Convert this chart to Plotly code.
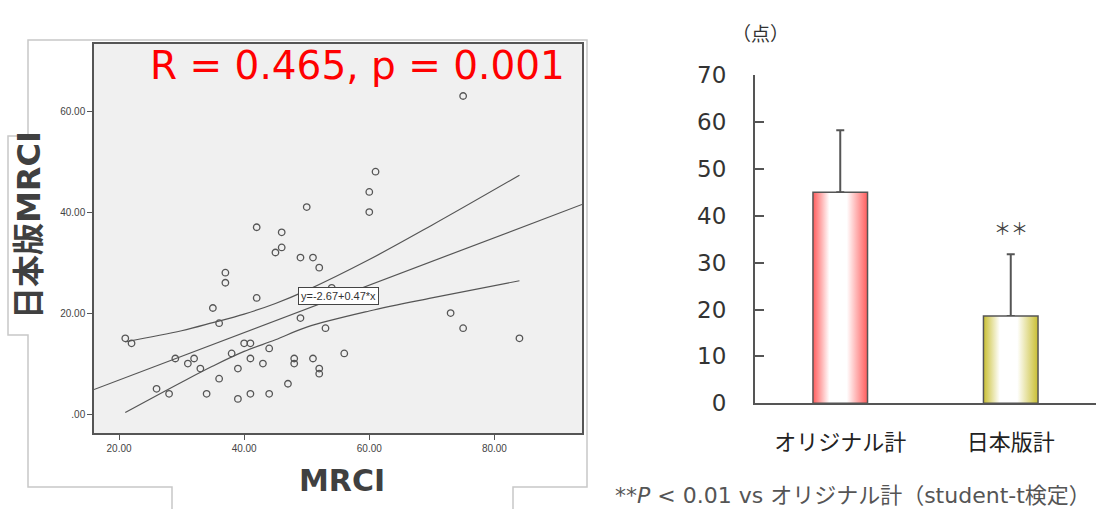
import plotly.graph_objects as go

W, H = 1105, 509

# ---------------- Scatter data (MRCI vs 日本版MRCI) ----------------
mrci = [75, 61, 60, 60, 50, 42, 46, 46, 45, 49,
        51, 52, 37, 37, 42, 35, 54, 49, 36, 53,
        21, 22, 40, 41, 44, 38, 56, 29, 32, 41,
        48, 51, 31, 43, 48, 33, 39, 52, 52, 36,
        47, 26, 28, 34, 41, 44, 39, 73, 75, 84]
jp_mrci = [63, 48, 44, 40, 41, 37, 36, 33, 32, 31,
           31, 29, 28, 26, 23, 21, 25, 19, 18, 17,
           15, 14, 14, 14, 13, 12, 12, 11, 11, 11,
           11, 11, 10, 10, 10, 9, 9, 9, 8, 7,
           6, 5, 4, 4, 4, 4, 3, 20, 17, 15]

fit_intercept = -2.67
fit_slope = 0.47
fit_x = [16, 94]

ci_x = [21, 30, 35, 40, 45, 50, 60, 70, 84]
ci_upper = [14.3, 16.5, 18.1, 19.8, 21.9, 24.5, 30.6, 37.4, 47.3]
ci_lower = [0.3, 6.3, 9.5, 12.4, 14.7, 17.2, 20.4, 23.0, 26.4]

scatter_xticks = [20, 40, 60, 80]
scatter_xticktext = ["20.00", "40.00", "60.00", "80.00"]
scatter_yticks = [0, 20, 40, 60]
scatter_yticktext = [".00", "20.00", "40.00", "60.00"]

# ---------------- Bar data ----------------
categories = ["オリジナル計", "日本版計"]
means = [45.0, 18.6]
sds = [13.2, 13.2]
bar_colors = ["#ff5c5c", "#c9bf32"]
bar_ticks = [0, 10, 20, 30, 40, 50, 60, 70]

fig = go.Figure()

# scatter points
fig.add_trace(go.Scatter(
    x=mrci, y=jp_mrci, mode="markers",
    marker=dict(symbol="circle-open", size=6.5, color="#555555", line=dict(width=1.3)),
    xaxis="x", yaxis="y", hoverinfo="x+y"))

# fit line
fig.add_trace(go.Scatter(
    x=fit_x, y=[fit_intercept + fit_slope * v for v in fit_x], mode="lines",
    line=dict(color="#555555", width=1.2), xaxis="x", yaxis="y"))

# confidence bands
for band in (ci_upper, ci_lower):
    fig.add_trace(go.Scatter(
        x=ci_x, y=band, mode="lines", line=dict(color="#555555", width=1.2, shape="spline"),
        xaxis="x", yaxis="y"))

# bars (gradient fills)
hw = 0.16
for i, (m, c) in enumerate(zip(means, bar_colors)):
    fig.add_trace(go.Scatter(
        x=[i - hw, i - hw, i + hw, i + hw, i - hw],
        y=[0, m, m, 0, 0],
        mode="lines", fill="toself",
        fillgradient=dict(type="horizontal",
                          colorscale=[[0, c], [0.3, "#ffffff"], [0.62, "#ffffff"], [1, c]]),
        line=dict(color="#555555", width=1.5),
        xaxis="x2", yaxis="y2", hoverinfo="skip"))

# bars (error bars)
fig.add_trace(go.Bar(
    x=[0, 1], y=means, width=2 * hw,
    marker=dict(color="rgba(0,0,0,0)", line=dict(width=0)),
    error_y=dict(type="data", array=sds, arrayminus=[0, 0], symmetric=False,
                 color="#555555", thickness=2, width=4),
    xaxis="x2", yaxis="y2"))

narrow = "Liberation Sans Narrow, Liberation Sans, Arial, sans-serif"
jp = "Noto Sans CJK JP, sans-serif"
dv = "DejaVu Sans, Noto Sans CJK JP, sans-serif"

fig.update_layout(
    width=W, height=H,
    margin=dict(l=0, r=0, t=0, b=0, autoexpand=False),
    paper_bgcolor="white", plot_bgcolor="white",
    showlegend=False,
    xaxis=dict(domain=[94 / W, 582 / W], range=[16, 94], anchor="y", automargin=False,
               tickvals=scatter_xticks, ticktext=scatter_xticktext,
               ticks="outside", ticklen=5, tickwidth=1, tickcolor="#555555",
               showline=True, mirror=True, linecolor="#555555", linewidth=1.5,
               showgrid=False, zeroline=False,
               tickfont=dict(family=narrow, size=10, color="#444444")),
    yaxis=dict(domain=[1 - 433 / H, 1 - 44 / H], range=[-3.76, 73.3], anchor="x", automargin=False,
               tickvals=scatter_yticks, ticktext=scatter_yticktext,
               ticks="outside", ticklen=5, tickwidth=1, tickcolor="#555555",
               showline=True, mirror=True, linecolor="#555555", linewidth=1.5,
               showgrid=False, zeroline=False,
               tickfont=dict(family=narrow, size=10, color="#444444")),
    xaxis2=dict(domain=[755 / W, 1096 / W], range=[-0.5, 1.5], anchor="y2", automargin=False,
                tickvals=[0, 1], ticktext=categories, ticks="",
                showline=True, linecolor="#555555", linewidth=2,
                showgrid=False, zeroline=False, ticklabelstandoff=18,
                tickfont=dict(family=jp, size=22, color="#222222")),
    yaxis2=dict(domain=[1 - 403.3 / H, 1 - 75 / H], range=[0, 70], anchor="x2", automargin=False,
                tickvals=bar_ticks, ticks="inside", ticklen=9, tickwidth=2,
                tickcolor="#555555", showline=True, linecolor="#555555", linewidth=2,
                showgrid=False, zeroline=False, ticklabelstandoff=22,
                tickfont=dict(family=dv, size=23, color="#333333")),
    shapes=[
        dict(type="rect", xref="x domain", yref="y domain", x0=0, x1=1, y0=0, y1=1,
             fillcolor="#f0f0f0", line=dict(width=0), layer="below"),
        dict(type="path", xref="paper", yref="paper",
             path="M {a},{b} L {a},{c} L {d},{c} L {d},{e} L {f},{e} L {f},{g} L {d},{g} "
                  "L {d},{h} L {i},{h} L {i},{c} L {j},{c} L {j},{b}".format(
                      a=172 / W, b=0, c=1 - 487 / H, d=28 / W, e=1 - 335 / H,
                      f=8 / W, g=1 - 136 / H, h=1 - 40 / H, i=587 / W, j=513 / W),
             line=dict(color="#c8c8c8", width=1.5), layer="below"),
    ],
    annotations=[
        dict(text="R = 0.465, p = 0.001", xref="paper", yref="paper",
             x=357 / W, y=1 - 66 / H, xanchor="center", yanchor="middle", showarrow=False,
             font=dict(family="DejaVu Sans", size=39, color="#ff0000")),
        dict(text="y=-2.67+0.47*x", xref="x", yref="y", x=55.1, y=23.3,
             showarrow=False, bgcolor="white", bordercolor="#444444", borderwidth=1,
             borderpad=2, font=dict(family=narrow, size=11, color="#333333")),
        dict(text="<b>日本版MRCI</b>", xref="paper", yref="paper", x=29 / W, y=1 - 225 / H,
             textangle=-90, showarrow=False, xanchor="center", yanchor="middle",
             font=dict(family=dv, size=32, color="#404040")),
        dict(text="<b>MRCI</b>", xref="paper", yref="paper", x=342 / W, y=1 - 480 / H,
             showarrow=False, xanchor="center", yanchor="middle",
             font=dict(family="DejaVu Sans", size=30, color="#404040")),
        dict(text="（点）", xref="paper", yref="paper", x=760 / W, y=1 - 33 / H,
             showarrow=False, xanchor="center", yanchor="middle",
             font=dict(family=jp, size=19, color="#333333")),
        dict(text="＊＊", xref="x2", yref="y2", x=1, y=37.4,
             showarrow=False, xanchor="center", yanchor="middle",
             font=dict(family=jp, size=17, color="#444444")),
        dict(text="**<i>P</i> &lt; 0.01 vs オリジナル計（student-t検定）", xref="paper", yref="paper",
             x=613 / W, y=1 - 495 / H, showarrow=False, xanchor="left", yanchor="middle",
             font=dict(family=dv, size=22, color="#555555")),
    ],
)

fig.write_html(
    "out.html",
    config=dict(displayModeBar=False),
    post_script="document.documentElement.style.margin='0';document.body.style.margin='0';"
                "document.documentElement.style.overflow='hidden';document.body.style.overflow='hidden';",
)
